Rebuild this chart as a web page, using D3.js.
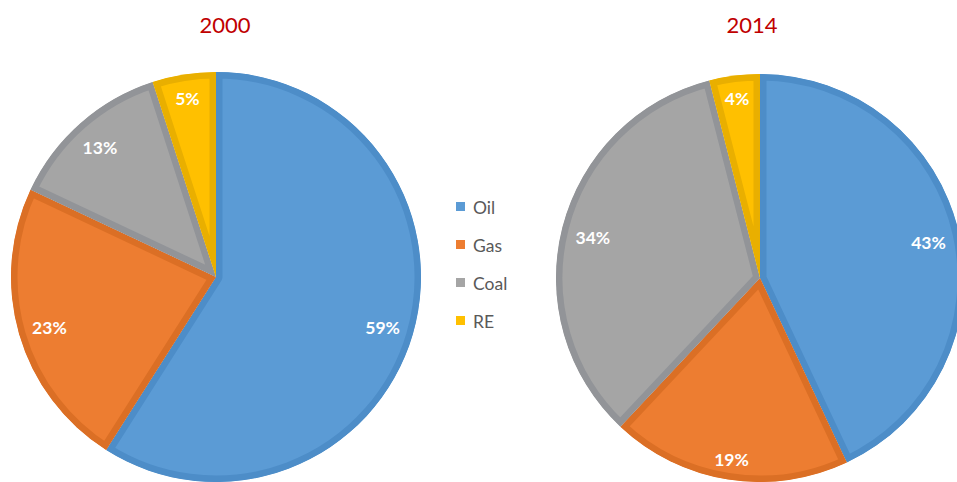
<!DOCTYPE html>
<html>
<head>
<meta charset="utf-8">
<script src="https://cdn.jsdelivr.net/npm/d3@7"></script>
<style>
  html, body { margin: 0; padding: 0; background: #ffffff; }
  svg { display: block; }
</style>
</head>
<body>
<svg id="chart" width="957" height="482"></svg>
<script>
// Energy mix shares (%) by source
const sources = ["Oil", "Gas", "Coal", "RE"];
const years = ["2000", "2014"];
const share2000 = [59, 23, 13, 5];
const share2014 = [43, 19, 34, 4];

const fillColors = ["#5b9bd5", "#ed7d31", "#a5a5a5", "#ffc000"];
const edgeColors = ["#4d8dc8", "#db6f25", "#929498", "#e9af00"];

const svg = d3.select("#chart");

const color = d3.scaleOrdinal().domain(sources).range(fillColors);
const edge = d3.scaleOrdinal().domain(sources).range(edgeColors);

const pie = d3.pie().sort(null).value(d => d.value);

const charts = [
  { year: years[0], values: share2000, cx: 216, cy: 277, r: 205, titleX: 225 },
  { year: years[1], values: share2014, cx: 760, cy: 278, r: 204, titleX: 752 }
];

// half extents of a value label box, used to keep labels just inside the rim
const labelHalfW = 18, labelHalfH = 7;

const defs = svg.append("defs");

charts.forEach((c, ci) => {
  const data = sources.map((s, i) => ({ source: s, value: c.values[i] }));
  const arcs = pie(data);
  const arc = d3.arc().innerRadius(0).outerRadius(c.r);

  const labelPos = d => {
    const a = (d.startAngle + d.endAngle) / 2;
    const sx = Math.sin(a), sy = -Math.cos(a);
    const dist = c.r * 0.94 - (Math.abs(sx) * labelHalfW + Math.abs(sy) * labelHalfH);
    return [sx * dist, sy * dist + 2];
  };

  const g = svg.append("g").attr("transform", `translate(${c.cx},${c.cy})`);

  arcs.forEach((a, i) => {
    const id = `clip-${ci}-${i}`;
    defs.append("clipPath").attr("id", id)
      .append("path").attr("d", arc(a));
    // slice body with a darker inner border (stroke clipped to the slice)
    g.append("path")
      .attr("d", arc(a))
      .attr("clip-path", `url(#${id})`)
      .attr("fill", color(a.data.source))
      .attr("stroke", edge(a.data.source))
      .attr("stroke-width", 13)
      .attr("stroke-linejoin", "round");
  });

  g.selectAll("text.val")
    .data(arcs)
    .join("text")
    .attr("class", "val")
    .attr("transform", d => `translate(${labelPos(d)})`)
    .attr("text-anchor", "middle")
    .attr("dominant-baseline", "central")
    .attr("fill", "#ffffff")
    .attr("font-family", "Lato, 'Open Sans', sans-serif")
    .attr("font-weight", "bold")
    .attr("font-size", 17.5)
    .text(d => d.data.value + "%");

  svg.append("text")
    .attr("x", c.titleX)
    .attr("y", 33)
    .attr("text-anchor", "middle")
    .attr("fill", "#c00000")
    .attr("font-family", "Lato, 'Open Sans', sans-serif")
    .attr("font-size", 22)
    .text(c.year);
});

// Legend
const legendY = d3.scalePoint().domain(sources).range([207, 321]);
const legend = svg.append("g");
sources.forEach(s => {
  legend.append("rect")
    .attr("x", 456).attr("y", legendY(s) - 5)
    .attr("width", 9).attr("height", 9)
    .attr("fill", color(s));
  legend.append("text")
    .attr("x", 473).attr("y", legendY(s))
    .attr("dominant-baseline", "central")
    .attr("fill", "#595959")
    .attr("font-family", "Lato, 'Open Sans', sans-serif")
    .attr("font-size", 17.5)
    .text(s);
});
</script>
</body>
</html>
